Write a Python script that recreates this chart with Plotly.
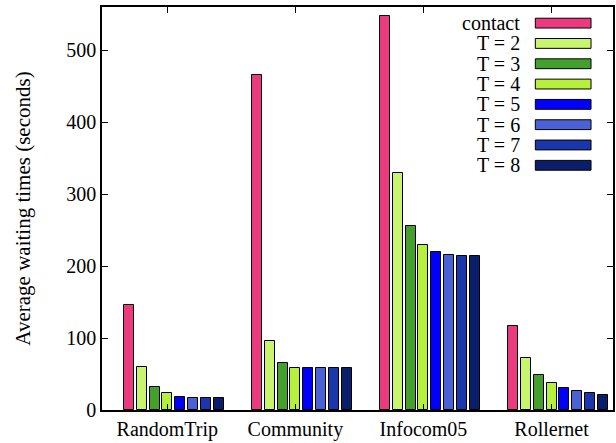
import plotly.graph_objects as go

categories = ["RandomTrip", "Community", "Infocom05", "Rollernet"]
series_names = ["contact", "T = 2", "T = 3", "T = 4", "T = 5", "T = 6", "T = 7", "T = 8"]
contact = [146, 466, 547, 117]
t2 = [60, 96, 330, 72]
t3 = [32, 65, 256, 49]
t4 = [23, 59, 229, 37]
t5 = [18.5, 58, 219, 30.5]
t6 = [17, 58, 215, 26]
t7 = [16, 58, 214, 23]
t8 = [16, 58, 214, 21]
colors = ["#EC3A7F", "#C8F46E", "#44A02C", "#B6F03C", "#0000FF", "#4A62D6", "#1A36AA", "#0A1E6B"]

series_values = [contact, t2, t3, t4, t5, t6, t7, t8]
group_pitch = 10  # 8 bars + gap of 2

font_family = "Liberation Serif, DejaVu Serif, serif"
fig = go.Figure()
for j, (name, vals, col) in enumerate(zip(series_names, series_values, colors)):
    fig.add_trace(go.Bar(
        x=[i * group_pitch + j for i in range(len(categories))],
        y=vals, name=name, width=0.78,
        marker=dict(color=col, line=dict(color="black", width=1)),
        showlegend=False,
    ))

# custom legend (text left of box, as in gnuplot)
row0, pitch = 0.960, 0.0504
for j, (name, col) in enumerate(zip(series_names, colors)):
    yc = row0 - j * pitch
    fig.add_annotation(x=0.8226, y=yc, xref="paper", yref="paper", text=name,
                       showarrow=False, xanchor="right", yanchor="middle",
                       font=dict(family=font_family, size=20, color="black"))
    fig.add_shape(type="rect", xref="paper", yref="paper",
                  x0=0.848, x1=0.957, y0=yc - 0.0122, y1=yc + 0.0122,
                  fillcolor=col, line=dict(color="black", width=1))

fig.update_layout(
    width=616, height=443,
    margin=dict(l=102, r=1, t=7, b=33),
    plot_bgcolor="white", paper_bgcolor="white",
    font=dict(family=font_family, size=20, color="black"),
    bargap=0,
)
fig.update_xaxes(
    range=[-2.1, 37.8],
    tickvals=[i * group_pitch + 3 for i in range(len(categories))],
    ticktext=categories,
    ticks="inside", ticklen=6, tickcolor="black",
    showline=True, linecolor="black", linewidth=1.5, mirror="ticks",
    showgrid=False, zeroline=False,
    tickfont=dict(size=20),
)
fig.update_yaxes(
    range=[0, 560],
    tickvals=[0, 100, 200, 300, 400, 500],
    ticks="inside", ticklen=6, tickcolor="black",
    showline=True, linecolor="black", linewidth=1.5, mirror="ticks",
    showgrid=False, zeroline=False,
    title=dict(text="Average waiting times (seconds)", font=dict(size=21), standoff=30),
    tickfont=dict(size=20),
)

fig.write_html("out.html", config={"displayModeBar": False},
               post_script="document.body.style.margin='0px';document.body.style.overflow='hidden';")
